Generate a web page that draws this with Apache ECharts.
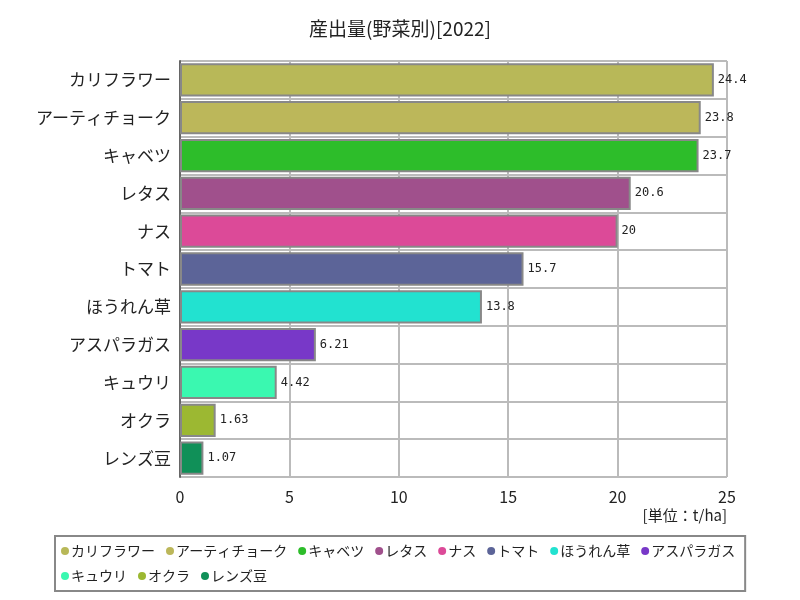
<!DOCTYPE html>
<html><head><meta charset="utf-8">
<script src="https://cdn.jsdelivr.net/npm/echarts@6/dist/echarts.min.js"></script>
<style>html,body{margin:0;padding:0;background:#fff}#c{width:800px;height:600px}</style>
</head><body><div id="c"></div>
<script>
const categories = ['カリフラワー','アーティチョーク','キャベツ','レタス','ナス','トマト','ほうれん草','アスパラガス','キュウリ','オクラ','レンズ豆'];
const values = [24.4, 23.8, 23.7, 20.6, 20, 15.7, 13.8, 6.21, 4.42, 1.63, 1.07];
const colors = ['#b8b858','#bcb75a','#2dbd2a','#a0508c','#dc4a98','#5c6498','#22e2d0','#7838c8','#3af8b0','#9cb832','#109058'];
const xTicks = [0, 5, 10, 15, 20, 25];

const font = '"Noto Sans CJK JP", sans-serif';
const series = categories.map((name, i) => ({
  name: name,
  type: 'bar',
  stack: 'all',
  barWidth: '88%',
  data: categories.map((c, j) => j === i ? values[i] : null),
  itemStyle: { color: colors[i], borderColor: '#888', borderWidth: 2 },
  label: { show: true, position: 'right', fontSize: 12, color: '#222', fontFamily: '"DejaVu Sans Mono", monospace', distance: 4 },
  emphasis: { disabled: true }
}));

const chart = echarts.init(document.getElementById('c'));
chart.setOption({
  animation: false,
  title: { text: '産出量(野菜別)[2022]', left: 'center', top: 14, textStyle: { fontSize: 19, fontWeight: 'normal', color: '#222', fontFamily: font } },
  grid: { left: 180, right: 73, top: 61, bottom: 123, show: true, borderColor: '#999', borderWidth: 1 },
  xAxis: {
    type: 'value', min: xTicks[0], max: xTicks[xTicks.length - 1], interval: 5,
    axisLine: { show: false }, axisTick: { show: false },
    axisLabel: { fontSize: 16, color: '#222', margin: 12, fontFamily: font },
    splitLine: { lineStyle: { color: '#bbb', width: 2 } }
  },
  yAxis: {
    type: 'category', data: categories, inverse: true,
    axisLine: { show: true, lineStyle: { color: '#666', width: 2 } },
    axisTick: { show: false },
    axisLabel: { fontSize: 17, color: '#222', margin: 9, fontFamily: font },
    splitLine: { show: true, lineStyle: { color: '#bbb', width: 2 } }
  },
  legend: {
    data: categories, left: 55, top: 536, width: 700,
    borderColor: '#888', borderWidth: 2, padding: [8, 10, 8, 6],
    icon: 'circle', itemWidth: 8, itemHeight: 8, itemGap: 11,
    itemStyle: { borderWidth: 0 },
    textStyle: { fontSize: 14, color: '#222', fontFamily: font, padding: [0, 0, 0, -3] }
  },
  graphic: [{ type: 'text', right: 73, top: 508, style: { text: '[単位：t/ha]', font: '15px "Noto Sans CJK JP", sans-serif', fill: '#222' } }],
  series: series
});
</script></body></html>
